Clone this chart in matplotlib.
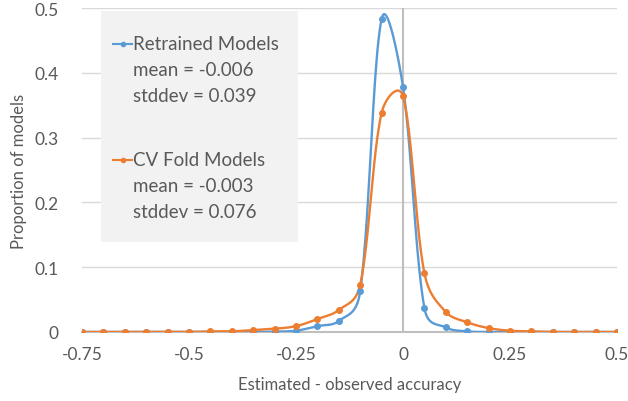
import numpy as np
import matplotlib.pyplot as plt
from matplotlib.patches import Rectangle

# 数据：估计值 - 观测值，步长 0.05 (-0.75 ... 0.5)
x = np.round(np.arange(-0.75, 0.5001, 0.05), 2)
#            -0.75 -0.7 -0.65 -0.6 -0.55 -0.5 -0.45 -0.4 -0.35 -0.3
retrained = [0, 0, 0, 0, 0, 0, 0, 0, 0, 0.0005,
             # -0.25 -0.2 -0.15 -0.1 -0.05 0 0.05 0.1 0.15
             0.002, 0.009, 0.017, 0.063, 0.483, 0.378, 0.037, 0.007, 0.001,
             # 0.2 ... 0.5
             0, 0, 0, 0, 0, 0, 0]
cv_fold = [0, 0, 0, 0, 0, 0, 0.001, 0.001, 0.003, 0.005,
           0.009, 0.020, 0.034, 0.073, 0.338, 0.364, 0.091, 0.031, 0.015,
           0.006, 0.002, 0.001, 0, 0, 0, 0]
xticks = [-0.75, -0.5, -0.25, 0, 0.25, 0.5]
xticklabels = ['-0.75', '-0.5', '-0.25', '0', '0.25', '0.5']
yticks = [0, 0.1, 0.2, 0.3, 0.4, 0.5]
yticklabels = ['0', '0.1', '0.2', '0.3', '0.4', '0.5']

blue = '#5b9bd5'
orange = '#ed7d31'
gray_txt = '#595959'

plt.rcParams['font.family'] = ['Lato', 'DejaVu Sans']


def smooth(ax, xs, ys, n=24):
    # 类似 Excel 平滑线：在像素坐标里做贝塞尔，切线按相邻线段长度缩放
    pts = ax.transData.transform(np.column_stack([xs, ys]))
    pts = np.vstack([pts[0], pts, pts[-1]])
    out = []
    t = np.linspace(0, 1, n, endpoint=False)[:, None]
    for i in range(1, len(pts) - 2):
        p0, p1, p2, p3 = pts[i - 1], pts[i], pts[i + 1], pts[i + 2]
        d01 = np.hypot(*(p1 - p0))
        d12 = np.hypot(*(p2 - p1))
        d23 = np.hypot(*(p3 - p2))
        f1 = np.sqrt(2 * d12 / (d01 + d12)) / 6 if d01 + d12 > 0 else 0
        f2 = np.sqrt(2 * d12 / (d12 + d23)) / 6 if d12 + d23 > 0 else 0
        c1 = p1 + (p2 - p0) * f1
        c2 = p2 - (p3 - p1) * f2
        out.append((1 - t) ** 3 * p1 + 3 * (1 - t) ** 2 * t * c1 + 3 * (1 - t) * t ** 2 * c2 + t ** 3 * p2)
    out.append(pts[-2][None, :])
    res = ax.transData.inverted().transform(np.vstack(out))
    return res[:, 0], res[:, 1]


fig = plt.figure(figsize=(6.28, 4.02), dpi=100)
ax = fig.add_axes([82 / 628, 1 - 333 / 402, 535 / 628, 324 / 402])
ax.set_xlim(-0.75, 0.5)
ax.set_ylim(0, 0.5)

for ys, c in ((retrained, blue), (cv_fold, orange)):
    sx, sy = smooth(ax, x, ys)
    ax.plot(sx, sy, color=c, lw=1.7, zorder=3)
    ax.plot(x, ys, 'o', color=c, ms=4, zorder=4)

ax.set_xticks(xticks)
ax.set_xticklabels(xticklabels)
ax.set_yticks(yticks)
ax.set_yticklabels(yticklabels)
ax.tick_params(length=0, labelsize=12.5, colors=gray_txt, pad=10)
ax.tick_params(axis='y', pad=17)
ax.grid(axis='y', color='#d9d9d9', lw=1)
ax.set_axisbelow(True)
for s in ['top', 'right', 'left']:
    ax.spines[s].set_visible(False)
ax.spines['bottom'].set_color('#bfbfbf')
ax.spines['bottom'].set_linewidth(1.5)
ax.axvline(0, color='#bfbfbf', lw=1.5, zorder=2)

ax.set_xlabel('Estimated - observed accuracy', fontsize=12, color=gray_txt, labelpad=10)
ax.set_ylabel('Proportion of models', fontsize=12, color=gray_txt, labelpad=5)

# 图例框
ax.add_patch(Rectangle((0.0355, 0.278), 0.369, 0.713, transform=ax.transAxes,
                       facecolor='#f2f2f2', edgecolor='none', zorder=5))
entries = [(blue, ['Retrained Models', 'mean = -0.006', 'stddev = 0.039'], 0.889),
           (orange, ['CV Fold Models', 'mean = -0.003', 'stddev = 0.076'], 0.531)]
for c, lines, y0 in entries:
    ax.plot([0.058, 0.094], [y0, y0], color=c, lw=1.5, transform=ax.transAxes, zorder=6, clip_on=False)
    ax.plot([0.076], [y0], 'o', color=c, ms=3, transform=ax.transAxes, zorder=6, clip_on=False)
    for k, t in enumerate(lines):
        ax.text(0.0953, y0 - k * 0.080, t, transform=ax.transAxes, fontsize=13.5,
                color=gray_txt, va='center', ha='left', zorder=6)

fig.savefig('out.png', dpi=100)
